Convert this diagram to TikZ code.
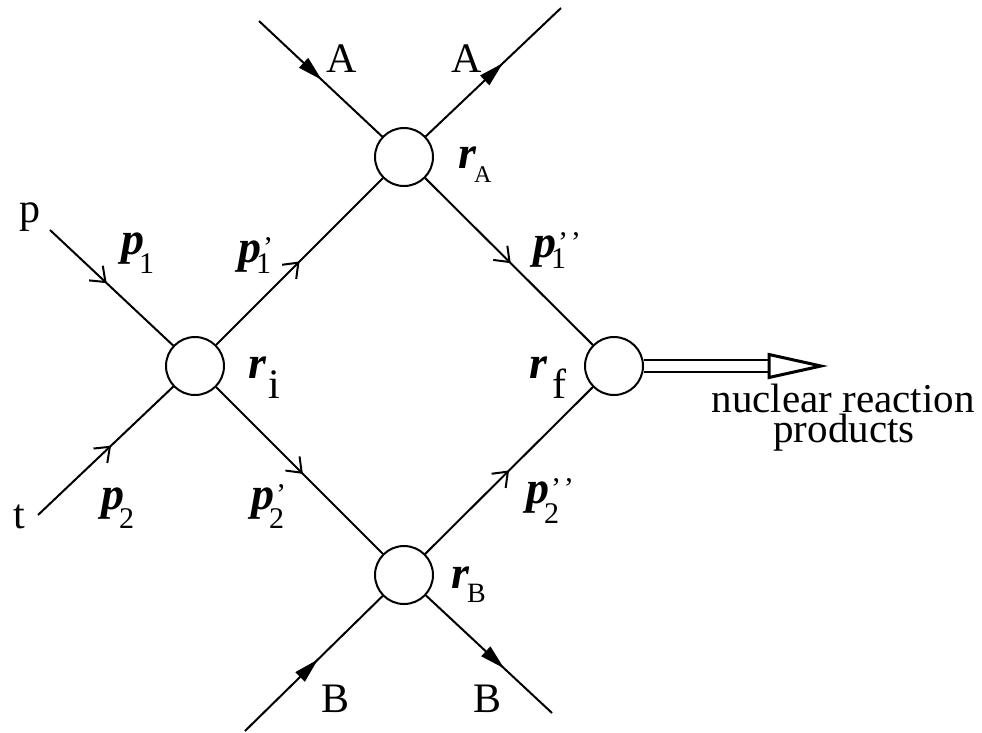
\documentclass[tikz,border=0pt]{standalone}
\usepackage{fontspec}
\setmainfont{Liberation Serif}
\usetikzlibrary{arrows.meta,decorations.markings}

\newcommand{\subsz}{\fontsize{30}{30}\selectfont}
\newcommand{\bsym}[1]{{\fontsize{46}{46}\selectfont\textbf{\textit{#1}}}}
% momentum label: sub, primes, drop of sub
\newcommand{\pmom}[3]{\bsym{p}\rlap{\kern2pt\raisebox{5pt}{\subsz #2}}\kern-5pt\raisebox{-#3}{\subsz #1}}

\begin{document}
\begin{tikzpicture}[
    x=1pt, y=-1pt, line width=2pt,
    font=\fontsize{42}{46}\selectfont,
    vtx/.style={circle, draw, minimum size=58pt, inner sep=0pt},
    lab/.style={inner sep=0pt, anchor=base west},
    txt/.style={inner sep=0pt, anchor=base, font=\fontsize{41}{44}\selectfont},
    fwd/.style={postaction={decorate}, decoration={markings,
      mark=at position #1 with {\arrow{Straight Barb[length=13pt,width=20pt]}}}},
    ffwd/.style={postaction={decorate}, decoration={markings,
      mark=at position #1 with {\arrow{Triangle[length=25pt,width=13pt]}}}}
  ]
    \useasboundingbox (0,0) rectangle (982,732);
    % vertices
    \node[vtx] (ri) at (195,366) {};
    \node[vtx] (ra) at (404,157) {};
    \node[vtx] (rb) at (404,575) {};
    \node[vtx] (rf) at (614,366) {};
    % free ends
    \coordinate (pin) at (50,230);
    \coordinate (tin) at (38,515);
    \coordinate (ain) at (259,21);
    \coordinate (aout) at (561,8);
    \coordinate (bin) at (245,731);
    \coordinate (bout) at (552,713);
    \coordinate (tb) at (769,366);
    \coordinate (tip) at (821,366);
    % lines
    \draw[fwd=0.46] (pin) -- (ri);
    \draw[fwd=0.54] (tin) -- (ri);
    \draw[fwd=0.5] (ri) -- (ra);
    \draw[fwd=0.52] (ri) -- (rb);
    \draw[fwd=0.51] (ra) -- (rf);
    \draw[fwd=0.5] (rb) -- (rf);
    \draw[ffwd=0.51] (ain) -- (ra);
    \draw[ffwd=0.57] (ra) -- (aout);
    \draw[ffwd=0.53] (bin) -- (rb);
    \draw[ffwd=0.62] (rb) -- (bout);
    \draw[double, double distance=10pt] (rf) -- (tb);
    \draw[line width=3pt, line join=miter] ([yshift=11.5pt]tb) -- (tip) -- ([yshift=-11.5pt]tb) -- cycle;
    % labels
    \node[lab] (lp) at (18,222) {p};
    \node[lab] (lt) at (12,528) {t};
    \node[lab] (lpa) at (120,254) {\pmom{1}{}{19pt}};
    \node[lab] (lpb) at (100,509) {\pmom{2}{}{19pt}};
    \node[lab] (lpa1) at (237,262) {\pmom{1}{'}{11pt}};
    \node[lab] (lpb1) at (250,509) {\pmom{2}{'}{19pt}};
    \node[lab] (lpa2) at (532,257) {\pmom{1}{'\kern3pt'}{11pt}};
    \node[lab] (lpb2) at (525,503) {\pmom{2}{'\kern3pt'}{20pt}};
    \node[lab] (lri) at (247,378) {\bsym{r}\kern2pt\raisebox{-20pt}{i}};
    \node[lab] (lrf) at (528,378) {\bsym{r}\kern5pt\raisebox{-20pt}{f}};
    \node[lab] (lra) at (457,168) {\bsym{r}\kern-2pt\raisebox{-14pt}{\fontsize{24}{24}\selectfont A}};
    \node[lab] (lrb) at (450,588) {\bsym{r}\kern-2pt\raisebox{-14pt}{\fontsize{28}{28}\selectfont B}};
    \node[lab] (la1) at (325,72) {A};
    \node[lab] (la2) at (450,72) {A};
    \node[lab] (lb1) at (320,712) {B};
    \node[lab] (lb2) at (472,712) {B};
    \node[txt] (nr) at (843,412) {nuclear reaction};
    \node[txt] (np) at (844,442) {products};
\end{tikzpicture}
\end{document}
